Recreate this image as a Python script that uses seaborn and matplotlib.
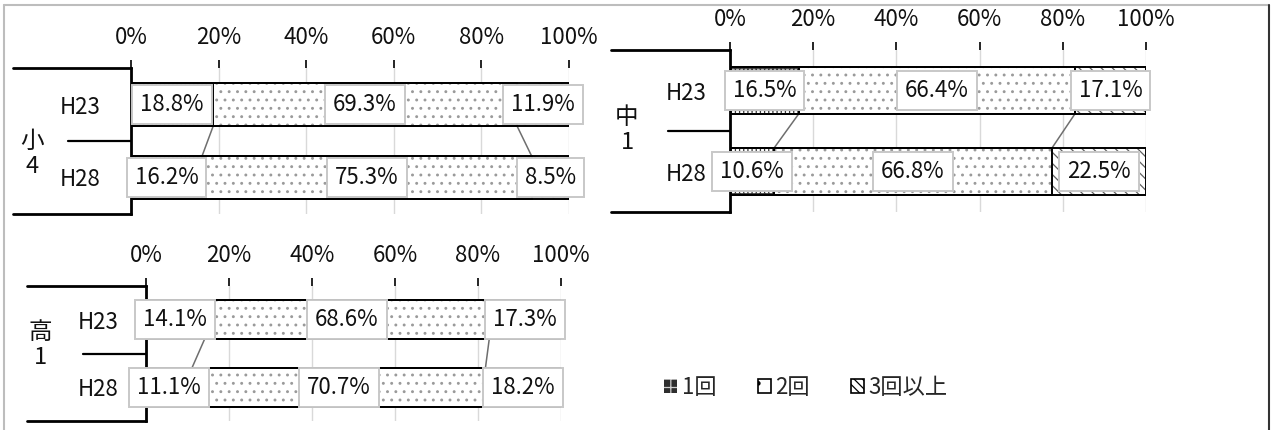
import numpy as np
import pandas as pd
import matplotlib
matplotlib.use("Agg")
import matplotlib.pyplot as plt
from matplotlib.patches import Rectangle, Patch
from matplotlib.lines import Line2D
import seaborn as sns

# ---------------- data ----------------
years = ["H23", "H28"]
series_names = ["1回", "2回", "3回以上"]
tick_values = [0, 20, 40, 60, 80, 100]
tick_labels = ["0%", "20%", "40%", "60%", "80%", "100%"]

sho4_once = [18.8, 16.2]
sho4_twice = [69.3, 75.3]
sho4_more = [11.9, 8.5]

chu1_once = [16.5, 10.6]
chu1_twice = [66.4, 66.8]
chu1_more = [17.1, 22.5]

ko1_once = [14.1, 11.1]
ko1_twice = [68.6, 70.7]
ko1_more = [17.3, 18.2]

group_labels = ["小\n4", "中\n1", "高\n1"]

# ---------------- style ----------------
sns.set_theme(style="white")
plt.rcParams["font.family"] = ["Noto Sans CJK JP", "DejaVu Sans"]
plt.rcParams["hatch.linewidth"] = 0.9

W, H = 1274, 430
fig = plt.figure(figsize=(W / 100, H / 100), dpi=100)

FS = 16
TXT = "#111111"
hatch_styles = [("++++", "#3a3a3a"), ("..", "#9a9a9a"), ("\\\\\\", "#606060")]


def add_ax(x0, x1, ytop, ybot):
    return fig.add_axes([x0 / W, 1 - ybot / H, (x1 - x0) / W, (ybot - ytop) / H])


def draw_panel(ax, once, twice, more, glabel, glabel_xy, left_long, left_mid, ypad):
    df = pd.DataFrame({"year": years, "s1": once, "s2": twice, "s3": more})
    df["c1"] = df["s1"]
    df["c2"] = df["s1"] + df["s2"]
    df["c3"] = df["c2"] + df["s3"]
    bw = 0.58
    ax.set_axisbelow(True)
    ax.grid(axis="x", color="#d9d9d9", lw=1.0)
    ax.grid(axis="y", visible=False)
    # stacked via overlapping cumulative bars (largest first)
    for col, (hatch, hc) in zip(["c3", "c2", "c1"], hatch_styles[::-1]):
        sns.barplot(data=df, x=col, y="year", orient="h", color="white",
                    width=bw, edgecolor=hc, linewidth=0, hatch=hatch,
                    errorbar=None, saturation=1, ax=ax)
    for p in list(ax.patches):
        ax.add_patch(Rectangle(p.get_xy(), p.get_width(), p.get_height(),
                               fill=False, edgecolor="black", lw=1.4, zorder=3))
    # series lines
    for col in ["c1", "c2"]:
        ax.plot([df[col].iloc[0], df[col].iloc[1]], [0 + bw / 2, 1 - bw / 2],
                color="#6e6e6e", lw=1.1, zorder=2)
    # data labels
    for i in range(len(df)):
        for s, c in [("s1", "c1"), ("s2", "c2"), ("s3", "c3")]:
            v = df[s].iloc[i]
            ax.text(df[c].iloc[i] - v / 2, i, f"{v:.1f}%", ha="center", va="center",
                    fontsize=FS, color=TXT, zorder=5,
                    bbox=dict(boxstyle="square,pad=0.36", fc="white",
                              ec="#c8c8c8", lw=1.4))
    ax.set_xlim(0, 100)
    ax.set_ylim(1.5, -0.5)
    ax.xaxis.tick_top()
    ax.set_xticks(tick_values)
    ax.set_xticklabels(tick_labels)
    ax.tick_params(axis="x", top=True, bottom=False, length=6, width=1.2,
                   color="black", pad=8, labelsize=FS, labelcolor=TXT)
    ax.tick_params(axis="y", left=False, length=0, pad=ypad, labelsize=FS,
                   labelcolor=TXT)
    ax.set_xlabel("")
    ax.set_ylabel("")
    for sp in ["top", "right", "bottom"]:
        ax.spines[sp].set_visible(False)
    ax.spines["left"].set_color("black")
    ax.spines["left"].set_linewidth(2)
    # multi-level category lines
    ax.plot([left_long, 0], [1, 1], transform=ax.transAxes, clip_on=False,
            color="black", lw=2)
    ax.plot([left_long, 0], [0, 0], transform=ax.transAxes, clip_on=False,
            color="black", lw=2)
    ax.plot([left_mid, 0], [0.5, 0.5], transform=ax.transAxes, clip_on=False,
            color="black", lw=1.6)
    fig.text(glabel_xy[0] / W, 1 - glabel_xy[1] / H, glabel, ha="center",
             va="center", fontsize=17, linespacing=1.15, color=TXT,
             multialignment="center")


def frac(px, x0, x1):
    return (px - x0) / (x1 - x0)


ax1 = add_ax(131, 569, 68, 214)
draw_panel(ax1, sho4_once, sho4_twice, sho4_more, group_labels[0], (32, 154),
           frac(13, 131, 569), frac(68, 131, 569), 22)

ax2 = add_ax(730, 1146, 50, 212)
draw_panel(ax2, chu1_once, chu1_twice, chu1_more, group_labels[1], (627, 130),
           frac(611, 730, 1146), frac(668, 730, 1146), 17)

ax3 = add_ax(146, 561, 286, 421)
draw_panel(ax3, ko1_once, ko1_twice, ko1_more, group_labels[2], (40, 345),
           frac(27, 146, 561), frac(83, 146, 561), 20)

# legend
handles = [
    Patch(facecolor="#2e2e2e", edgecolor="#d0d0d0", hatch="++", linewidth=0),
    Patch(facecolor="white", edgecolor="black", hatch=".", linewidth=1.2),
    Patch(facecolor="white", edgecolor="black", hatch="\\\\\\\\", linewidth=1.2),
]
fig.legend(handles, series_names, loc="center left",
           bbox_to_anchor=(664 / W, 1 - 387 / H), ncol=3, frameon=False,
           fontsize=FS, handlelength=0.6, handleheight=0.6,
           handletextpad=0.2, columnspacing=1.85, borderpad=0, borderaxespad=0)

# outer frame
fig.add_artist(Line2D([4 / W, 4 / W], [0, 1 - 5 / H], color="#bdbdbd", lw=1.5,
                      transform=fig.transFigure))
fig.add_artist(Line2D([4 / W, 1269 / W], [1 - 5 / H, 1 - 5 / H], color="#bdbdbd",
                      lw=1.5, transform=fig.transFigure))
fig.add_artist(Line2D([1269 / W, 1269 / W], [0, 1 - 5 / H], color="#333333",
                      lw=1.5, transform=fig.transFigure))

fig.savefig("out.png", dpi=100)
